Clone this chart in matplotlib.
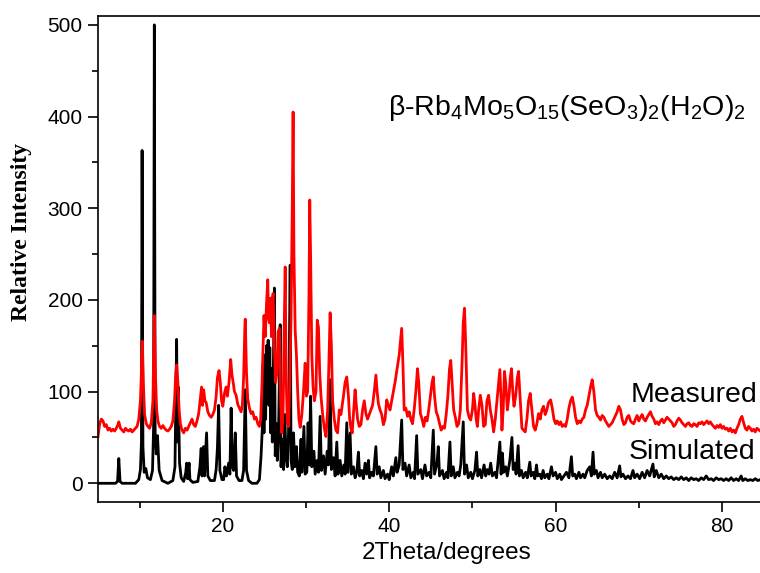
import numpy as np
import matplotlib
matplotlib.use('Agg')
import matplotlib.pyplot as plt
from matplotlib.ticker import MultipleLocator

plt.rcParams['font.family'] = ['Liberation Sans', 'DejaVu Sans']
plt.rcParams['mathtext.fontset'] = 'custom'
plt.rcParams['mathtext.rm'] = 'Liberation Sans'
plt.rcParams['mathtext.it'] = 'Liberation Sans:italic'

# Simulated pattern (2theta, intensity)
sim_2theta = [5.0, 7.1, 7.35, 7.5, 7.65, 7.9, 9.5, 9.9, 10.1, 10.22, 10.3, 10.4, 10.55, 10.75, 10.95,
              11.3, 11.55, 11.68, 11.77, 11.87, 12.0, 12.15, 12.35, 12.7, 13.4, 14.0, 14.25, 14.45, 14.55,
              14.65, 14.8, 15.0, 15.3, 15.55, 15.65, 15.75, 15.95, 16.05, 16.4, 17.0, 17.25, 17.4, 17.5,
              17.7, 17.8, 18.05, 18.2, 18.5, 19.0, 19.2, 19.35, 19.5, 19.65, 19.9, 20.1, 20.25, 20.45,
              20.7, 20.85, 21.0, 21.15, 21.3, 21.5, 21.65, 21.95, 22.3, 22.5, 22.7, 22.85, 23.1, 23.5,
              24.1, 24.4, 24.6, 24.75, 24.85, 24.95, 25.05, 25.15, 25.25, 25.35, 25.45, 25.55, 25.65,
              25.75, 25.85, 25.95, 26.05, 26.2, 26.3, 26.45, 26.55, 26.7, 26.9, 27.0, 27.15, 27.3, 27.45,
              27.6, 27.75, 27.9, 28.1, 28.2, 28.35, 28.5, 28.65, 28.85, 29.0, 29.2, 29.4, 29.5, 29.75,
              29.9, 30.1, 30.25, 30.4, 30.55, 30.7, 30.95, 31.1, 31.35, 31.5, 31.7, 31.85, 32.1, 32.3,
              32.55, 32.7, 32.9, 33.05, 33.3, 33.5, 33.7, 33.85, 34.1, 34.3, 34.55, 34.7, 34.9, 35.05,
              35.3, 35.45, 35.7, 35.9, 36.1, 36.3, 36.45, 36.7, 36.9, 37.1, 37.3, 37.5, 37.65, 37.9,
              38.1, 38.4, 38.55, 38.8, 39.0, 39.3, 39.5, 39.8, 40.0, 40.3, 40.5, 40.8, 40.95, 41.2,
              41.5, 41.65, 41.9, 42.1, 42.4, 42.6, 42.9, 43.05, 43.3, 43.45, 43.8, 44.0, 44.3, 44.5,
              44.8, 45.0, 45.3, 45.45, 45.75, 45.9, 46.05, 46.4, 46.6, 46.9, 47.05, 47.3, 47.45, 47.7,
              47.9, 48.2, 48.4, 48.6, 48.9, 49.05, 49.3, 49.5, 49.8, 50.0, 50.3, 50.5, 50.65, 50.9,
              51.1, 51.4, 51.6, 51.8, 52.0, 52.2, 52.4, 52.7, 52.9, 53.1, 53.3, 53.45, 53.6, 53.75,
              54.0, 54.2, 54.5, 54.75, 54.9, 55.1, 55.25, 55.5, 55.65, 55.9, 56.1, 56.4, 56.6, 56.9,
              57.05, 57.3, 57.5, 57.7, 57.85, 58.1, 58.3, 58.5, 58.7, 59.0, 59.2, 59.5, 59.7, 60.0,
              60.2, 60.5, 60.7, 61.0, 61.3, 61.6, 61.9, 62.05, 62.3, 62.5, 62.8, 63.0, 63.3, 63.5,
              63.8, 64.1, 64.3, 64.5, 64.65, 64.9, 65.1, 65.4, 65.6, 65.9, 66.2, 66.5, 66.8, 67.1,
              67.4, 67.7, 67.85, 68.1, 68.4, 68.7, 69.0, 69.3, 69.5, 69.8, 70.1, 70.4, 70.7, 71.0,
              71.3, 71.7, 71.85, 72.1, 72.4, 72.7, 73.0, 73.3, 73.6, 73.9, 74.2, 74.5, 74.8, 75.1,
              75.4, 75.7, 76.0, 76.3, 76.6, 76.9, 77.2, 77.5, 77.8, 78.1, 78.4, 78.7, 79.0, 79.3,
              79.6, 79.9, 80.2, 80.5, 80.8, 81.1, 81.4, 81.7, 82.0, 82.3, 82.5, 82.8, 83.1, 83.4,
              83.7, 84.0, 84.3, 84.6, 85.0]
sim_int = [0, 0, 2, 27, 2, 0, 0, 4, 15, 45, 363, 40, 12, 16, 6,
           4, 14, 60, 500, 55, 32, 52, 14, 3, 0, 3, 18, 157, 45,
           105, 22, 6, 2, 12, 22, 5, 22, 4, 1, 2, 18, 38, 8,
           40, 8, 55, 8, 3, 3, 15, 38, 85, 14, 4, 4, 18, 8,
           22, 10, 82, 18, 14, 55, 8, 3, 3, 14, 102, 14, 3, 0,
           0, 4, 30, 60, 130, 55, 140, 70, 150, 95, 156, 85, 148,
           55, 125, 45, 105, 213, 30, 65, 25, 55, 173, 18, 48, 15, 75,
           28, 18, 55, 238, 25, 15, 55, 18, 40, 12, 8, 48, 12, 62,
           10, 12, 66, 20, 95, 18, 35, 10, 25, 12, 73, 14, 30, 10,
           35, 20, 113, 15, 28, 8, 45, 10, 25, 8, 20, 10, 66, 12,
           55, 10, 18, 6, 12, 34, 8, 14, 5, 22, 10, 25, 6, 12,
           8, 40, 10, 18, 6, 14, 5, 10, 4, 18, 8, 28, 12, 20,
           69, 15, 22, 8, 20, 6, 12, 5, 52, 10, 15, 5, 20, 8,
           12, 6, 58, 10, 22, 40, 8, 14, 5, 12, 6, 45, 8, 18,
           6, 12, 8, 20, 67, 10, 20, 6, 12, 5, 14, 34, 8, 15,
           6, 20, 8, 15, 10, 22, 8, 12, 6, 25, 45, 10, 33, 12,
           18, 8, 25, 50, 15, 22, 10, 41, 8, 14, 6, 12, 6, 23,
           8, 12, 5, 20, 8, 10, 5, 14, 6, 10, 5, 18, 8, 12,
           5, 10, 4, 8, 12, 6, 29, 8, 10, 5, 12, 6, 10, 6,
           14, 18, 8, 34, 10, 14, 6, 12, 6, 10, 5, 8, 5, 12,
           6, 19, 7, 10, 5, 8, 5, 14, 6, 10, 5, 12, 6, 14,
           8, 21, 7, 14, 6, 10, 5, 8, 5, 7, 4, 6, 4, 7,
           4, 6, 3, 6, 4, 5, 3, 6, 4, 8, 4, 5, 3, 6,
           4, 5, 3, 5, 3, 6, 3, 5, 3, 8, 3, 5, 3, 4,
           3, 5, 3, 4, 3]

# Measured pattern (2theta, intensity)
meas_2theta = [5.0, 5.2, 5.4, 5.6, 5.8, 6.0, 6.2, 6.4, 6.6, 6.8, 7.0, 7.2, 7.4, 7.5, 7.7, 7.9, 8.1,
               8.3, 8.5, 8.7, 8.9, 9.1, 9.3, 9.5, 9.7, 9.9, 10.1, 10.25, 10.32, 10.45, 10.6, 10.8,
               11.0, 11.2, 11.4, 11.6, 11.72, 11.78, 11.9, 12.05, 12.2, 12.4, 12.6, 12.8, 13.0, 13.2,
               13.4, 13.6, 13.8, 14.0, 14.2, 14.35, 14.45, 14.6, 14.75, 14.9, 15.1, 15.3, 15.5, 15.7,
               15.9, 16.1, 16.3, 16.5, 16.7, 16.9, 17.1, 17.3, 17.45, 17.55, 17.7, 17.85, 18.0, 18.2,
               18.4, 18.6, 18.8, 19.0, 19.2, 19.35, 19.55, 19.7, 19.85, 20.0, 20.2, 20.4, 20.55, 20.75,
               20.95, 21.1, 21.25, 21.4, 21.6, 21.8, 22.0, 22.2, 22.35, 22.5, 22.65, 22.7, 22.85, 23.0,
               23.2, 23.4, 23.6, 23.8, 24.0, 24.2, 24.4, 24.55, 24.7, 24.85, 24.95, 25.1, 25.25, 25.4,
               25.5, 25.6, 25.75, 25.85, 25.95, 26.05, 26.2, 26.35, 26.5, 26.65, 26.8, 26.95, 27.1,
               27.25, 27.4, 27.5, 27.6, 27.75, 27.9, 28.05, 28.2, 28.35, 28.45, 28.55, 28.7, 28.85,
               29.0, 29.15, 29.3, 29.5, 29.7, 29.9, 30.05, 30.2, 30.35, 30.45, 30.55, 30.7, 30.85,
               31.0, 31.2, 31.35, 31.5, 31.65, 31.8, 32.0, 32.2, 32.4, 32.6, 32.75, 32.9, 33.05, 33.2,
               33.4, 33.6, 33.8, 34.0, 34.2, 34.5, 34.7, 34.9, 35.1, 35.25, 35.4, 35.55, 35.7, 35.9,
               36.05, 36.2, 36.4, 36.6, 36.8, 37.0, 37.2, 37.4, 37.6, 37.8, 38.0, 38.2, 38.4, 38.55,
               38.7, 38.9, 39.1, 39.3, 39.5, 39.7, 39.9, 40.1, 40.3, 40.5, 40.7, 40.95, 41.2, 41.4,
               41.5, 41.65, 41.8, 42.0, 42.2, 42.4, 42.6, 42.8, 43.0, 43.2, 43.4, 43.55, 43.75, 43.95,
               44.15, 44.35, 44.55, 44.75, 44.95, 45.15, 45.3, 45.45, 45.65, 45.85, 46.05, 46.25,
               46.45, 46.65, 46.85, 47.05, 47.25, 47.4, 47.55, 47.75, 47.95, 48.15, 48.35, 48.55,
               48.75, 48.9, 49.05, 49.2, 49.4, 49.6, 49.8, 50.0, 50.15, 50.3, 50.45, 50.6, 50.75,
               50.95, 51.15, 51.35, 51.55, 51.75, 51.95, 52.15, 52.35, 52.55, 52.75, 52.95, 53.15,
               53.3, 53.45, 53.55, 53.7, 53.85, 54.0, 54.2, 54.4, 54.55, 54.7, 54.85, 55.0, 55.2,
               55.4, 55.55, 55.75, 55.95, 56.15, 56.35, 56.55, 56.75, 56.95, 57.15, 57.35, 57.55,
               57.75, 57.95, 58.15, 58.35, 58.55, 58.75, 58.95, 59.15, 59.4, 59.6, 59.8, 60.0, 60.2,
               60.4, 60.6, 60.8, 61.0, 61.2, 61.4, 61.6, 61.8, 62.0, 62.2, 62.4, 62.6, 62.8, 63.0,
               63.2, 63.4, 63.6, 63.8, 64.0, 64.2, 64.4, 64.6, 64.8, 65.0, 65.2, 65.4, 65.6, 65.8,
               66.0, 66.2, 66.4, 66.6, 66.8, 67.0, 67.2, 67.4, 67.6, 67.8, 68.0, 68.2, 68.4, 68.6,
               68.8, 69.0, 69.2, 69.4, 69.6, 69.8, 70.0, 70.2, 70.4, 70.6, 70.8, 71.0, 71.2, 71.4,
               71.6, 71.8, 72.0, 72.2, 72.4, 72.6, 72.8, 73.0, 73.2, 73.4, 73.6, 73.8, 74.0, 74.2,
               74.4, 74.6, 74.8, 75.0, 75.2, 75.4, 75.6, 75.8, 76.0, 76.2, 76.4, 76.6, 76.8, 77.0,
               77.2, 77.4, 77.6, 77.8, 78.0, 78.2, 78.4, 78.6, 78.8, 79.0, 79.2, 79.4, 79.6, 79.8,
               80.0, 80.2, 80.4, 80.6, 80.8, 81.0, 81.2, 81.4, 81.6, 81.8, 82.0, 82.2, 82.4, 82.6,
               82.8, 83.0, 83.2, 83.4, 83.6, 83.8, 84.0, 84.2, 84.6, 85.0]
meas_int = [51, 65, 70, 68, 62, 64, 58, 60, 57, 59, 57, 60, 64, 67, 60, 58, 56,
            60, 58, 57, 59, 56, 58, 60, 62, 70, 90, 130, 155, 110, 75, 65,
            62, 60, 66, 90, 150, 183, 120, 80, 68, 62, 60, 63, 60, 58,
            57, 59, 62, 68, 90, 120, 129, 110, 80, 65, 58, 55, 60, 58,
            62, 66, 70, 64, 62, 68, 76, 92, 105, 85, 102, 90, 88, 78,
            74, 72, 75, 80, 95, 115, 123, 110, 90, 84, 98, 105, 95, 110,
            135, 118, 110, 100, 96, 86, 82, 78, 85, 115, 170, 179, 120, 92,
            82, 76, 78, 70, 72, 65, 62, 70, 105, 150, 183, 160, 195, 222,
            180, 175, 202, 160, 200, 207, 150, 110, 120, 165, 169, 90, 55,
            80, 180, 236, 120, 65, 62, 110, 180, 300, 405, 250, 167, 140,
            100, 70, 61, 75, 100, 131, 95, 100, 200, 309, 250, 140, 105,
            90, 100, 178, 170, 120, 95, 75, 60, 51, 80, 130, 186, 150, 90,
            70, 58, 55, 80, 75, 95, 110, 116, 95, 70, 60, 55, 75, 102,
            85, 70, 62, 64, 80, 90, 76, 70, 75, 80, 85, 100, 118, 100,
            87, 80, 75, 64, 70, 91, 85, 80, 90, 100, 110, 125, 140, 160,
            169, 130, 80, 82, 73, 78, 70, 65, 80, 100, 125, 110, 76, 70,
            62, 72, 68, 80, 95, 110, 116, 95, 78, 73, 65, 58,
            62, 60, 75, 95, 125, 134, 110, 80, 72, 62, 65, 80,
            130, 175, 191, 150, 80, 72, 69, 80, 98, 87, 70, 62, 80,
            96, 85, 62, 64, 90, 96, 80, 70, 56, 70, 90, 110,
            124, 90, 58, 80, 122, 110, 80, 95, 115, 125, 100, 84, 95,
            115, 122, 90, 60, 58, 56, 70, 90, 98, 80, 62, 58,
            65, 76, 70, 80, 84, 75, 80, 88, 91, 82, 70, 65, 68,
            64, 67, 62, 64, 62, 70, 82, 90, 94, 85, 72, 65, 68, 66,
            70, 72, 80, 85, 95, 105, 113, 100, 80, 74, 72, 69, 74, 72,
            68, 65, 62, 64, 66, 70, 74, 78, 84, 80, 70, 64, 66, 72,
            74, 68, 66, 65, 70, 74, 68, 72, 75, 70, 68, 72, 75, 78,
            73, 70, 65, 67, 64, 68, 70, 66, 69, 72, 70, 68, 66, 62,
            64, 68, 71, 69, 66, 64, 62, 65, 66, 63, 62, 65, 64, 62,
            66, 65, 67, 64, 66, 68, 65, 67, 64, 62, 60, 63, 61, 64,
            60, 62, 59, 60, 57, 60, 56, 58, 55, 60, 64, 70, 73, 66,
            60, 58, 62, 60, 57, 59, 56, 60, 57, 56]

fig = plt.figure(figsize=(7.6, 5.73), dpi=100)
# axes runs a little past the right edge, like the cropped original
ax = fig.add_axes([98 / 760, 1 - 502 / 573, 665.6 / 760, (502 - 15.7) / 573])

ax.plot(sim_2theta, sim_int, color='black', lw=2.0)
ax.plot(meas_2theta, meas_int, color='red', lw=2.0)

ax.set_xlim(5, 85)
ax.set_ylim(-20.4, 510)
ax.xaxis.set_major_locator(MultipleLocator(20))
ax.xaxis.set_minor_locator(MultipleLocator(10))
ax.yaxis.set_major_locator(MultipleLocator(100))
ax.yaxis.set_minor_locator(MultipleLocator(50))
ax.tick_params(which='major', direction='out', length=7, width=1.2, labelsize=15, pad=4)
ax.tick_params(which='minor', direction='out', length=4, width=1.2)
ax.tick_params(top=False, right=False)
for s in ax.spines.values():
    s.set_linewidth(1.2)
ax.spines['right'].set_visible(False)

fig.text(22 / 760, 1 - 232 / 573, 'Relative Intensity', rotation=90, ha='center', va='center',
         fontsize=17, fontweight='bold', family=['Liberation Serif', 'DejaVu Serif'])
fig.text(447 / 760, 1 - 553 / 573, '2Theta/degrees', ha='center', va='center', fontsize=17.5)

fig.text(388 / 760, 1 - 108 / 573,
         r'$\mathregular{\beta}$-Rb$_4$Mo$_5$O$_{15}$(SeO$_3$)$_2$(H$_2$O)$_2$',
         ha='left', va='center', fontsize=20.5)
fig.text(631 / 760, 1 - 395 / 573, 'Measured', ha='left', va='center', fontsize=20.5)
fig.text(629 / 760, 1 - 452 / 573, 'Simulated', ha='left', va='center', fontsize=20.5)

plt.savefig('out.png', dpi=100)
